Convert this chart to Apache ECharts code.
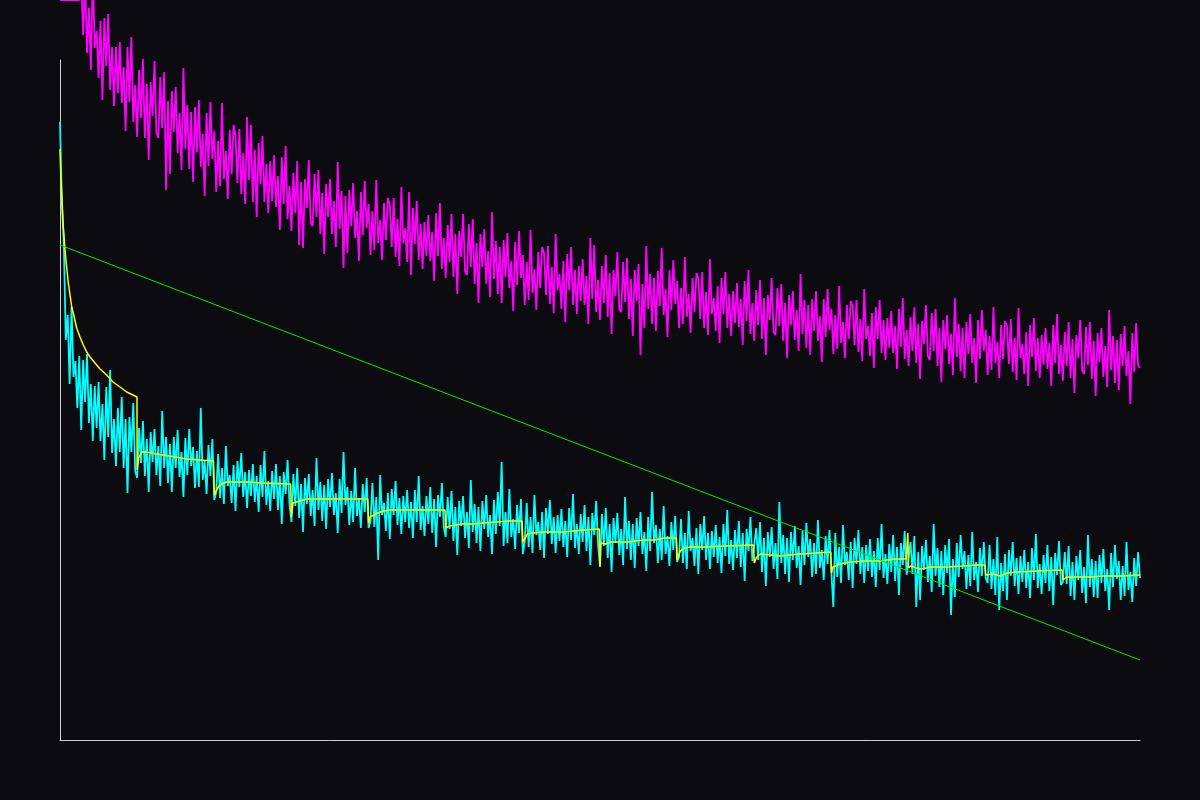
<!DOCTYPE html>
<html>
<head>
<meta charset="utf-8">
<script src="https://cdn.jsdelivr.net/npm/echarts@6.0.0/dist/echarts.min.js"></script>
<style>
html,body{margin:0;padding:0;background:#0b0b10;}
#chart{width:1200px;height:800px;}
</style>
</head>
<body>
<div id="chart"></div>
<script>
// spacing between consecutive samples of the noisy series (x units)
const STEP = 2.5;

const magentaValues = [
7.40,7.40,7.40,7.40,7.40,7.40,7.40,7.40,7.40,7.40,7.40,
7.60,7.05,7.64,6.87,7.32,6.70,7.67,6.92,7.09,6.62,7.19,6.40,7.22,6.74,7.26,6.50,6.93,6.34,6.93,6.47,6.98,6.37,6.73,6.09,6.93,6.38,7.03,6.18,6.55,6.03,6.70,6.22,6.81,6.02,6.56,5.80,6.58,6.24,6.79,6.07,
6.02,6.63,6.12,6.68,5.50,6.39,5.66,6.49,6.08,6.53,5.87,6.27,5.70,6.72,5.91,6.35,5.71,6.28,5.58,6.33,5.88,6.40,5.73,6.06,5.44,6.27,5.74,6.38,5.81,6.09,5.48,5.99,5.54,6.37,5.61,5.89,5.41,6.10,5.66,6.15,
6.04,5.57,6.11,5.46,5.87,5.36,6.23,5.60,6.15,5.38,5.90,5.23,5.97,5.56,6.04,5.38,5.76,5.27,5.79,5.39,5.85,5.33,5.64,5.10,5.83,5.36,5.94,5.21,5.54,5.09,5.67,5.27,5.79,4.95,5.58,4.92,5.61,5.32,5.80,5.17,
5.14,5.66,5.23,5.70,5.06,5.47,4.86,5.56,5.23,5.61,5.06,5.39,4.93,5.78,5.11,5.49,4.72,5.44,4.87,5.50,5.14,5.57,5.02,5.29,4.79,5.48,5.05,5.59,5.12,5.36,4.85,5.29,4.90,5.60,4.97,5.20,4.80,5.37,5.00,5.42,
5.35,4.93,5.42,4.83,5.21,4.74,5.53,4.97,5.12,4.78,5.48,4.65,5.32,4.96,5.39,4.80,5.16,4.71,5.18,4.84,5.25,4.79,5.08,4.59,5.27,4.84,5.37,4.71,5.02,4.62,5.15,4.78,5.26,4.63,5.06,4.46,5.09,4.83,5.26,4.69,
4.65,5.16,4.73,5.21,4.56,4.97,4.37,5.06,4.73,5.11,4.56,4.89,4.43,5.28,4.61,4.99,4.46,4.93,4.37,5.00,4.63,5.07,4.52,4.79,4.29,4.98,4.55,5.09,4.62,4.85,4.35,4.78,4.40,5.10,4.47,4.71,4.30,4.88,4.52,4.93,
4.87,4.45,4.94,4.36,4.73,4.27,5.06,4.50,4.66,4.31,4.79,4.18,4.86,4.50,4.93,4.35,4.70,4.26,4.74,4.39,4.81,4.35,4.64,4.16,5.02,4.41,4.95,4.28,4.60,4.20,4.74,4.37,4.85,4.23,4.67,4.06,4.70,4.44,4.88,4.31,
4.28,4.78,4.38,4.82,4.21,4.61,4.04,4.70,4.39,4.76,3.85,4.56,4.12,4.94,4.31,4.66,4.16,4.62,4.09,4.69,4.34,4.92,4.25,4.51,4.03,4.70,4.30,4.80,4.36,4.59,4.12,4.52,4.16,4.83,4.23,4.46,4.07,4.62,4.28,4.67,
4.61,4.21,4.68,4.12,4.48,4.05,4.81,4.26,4.42,4.09,4.54,3.97,4.62,4.26,4.68,4.12,4.46,4.04,4.49,4.17,4.57,4.13,4.41,3.95,4.59,4.19,4.70,4.06,4.37,3.99,4.50,4.15,4.60,4.01,4.42,3.85,4.45,4.20,4.62,4.08,
4.05,4.52,4.14,4.56,3.99,4.37,3.82,4.45,4.15,4.49,4.00,4.30,3.89,4.66,4.06,4.40,3.92,4.35,3.85,4.41,4.09,4.49,3.99,4.24,3.78,4.41,4.03,4.51,4.10,4.31,3.86,4.25,3.91,4.54,3.97,4.18,3.82,4.35,4.01,4.39,
4.34,3.95,4.40,3.88,4.21,3.79,4.51,4.01,4.14,3.84,4.27,3.72,4.33,4.01,4.40,3.87,4.20,3.80,4.22,3.92,4.29,3.87,4.14,3.71,4.31,3.93,4.42,3.81,4.10,3.74,4.23,3.89,4.33,3.77,4.16,3.61,4.19,3.96,4.35,3.84,
3.80,4.27,3.89,4.31,3.74,4.12,3.58,4.20,3.91,4.25,3.76,4.06,3.65,4.42,3.83,4.16,3.69,4.12,3.62,4.18,3.86,4.26,3.77,4.02,3.57,4.20,3.81,4.30,3.89,4.10,3.65,4.04,3.70,4.33,3.77,3.98,3.62,4.15,3.81,4.19,
4.14,3.76,4.21,3.68,4.02,3.60,4.32,3.82,3.96,3.66,4.08,3.54,4.15,3.83,4.22,3.69,4.02,3.62,4.05,3.75,4.12,3.71,3.97,3.54,4.15,3.77,4.26,3.66,3.95,3.59,4.08,3.74,4.18,3.62,4.01,3.47,4.05,3.82,4.20,3.70,
3.66,4.13,3.75,4.18,3.61,3.99,3.44,4.07,3.78,4.12,3.63,3.94,3.53,4.30,3.70,4.04,3.57,4.00,3.50,4.06,3.74,4.14,3.64,3.89,3.36,4.07,3.68,4.17,3.75,3.72
];

const cyanValues = [
6.18,5.35,4.96,4.00,4.25,3.56,4.33,3.63,3.79,3.32,3.84,3.10,3.80,3.38,3.86,3.17,3.56,2.99,3.54,3.12,3.58,2.99,3.36,2.80,3.53,3.03,3.70,2.87,3.21,2.74,3.32,2.88,3.43,2.72,3.21,2.47,3.23,2.88,3.37,2.69,
2.62,3.12,2.77,3.19,2.64,3.01,2.48,3.08,2.78,3.11,2.65,2.94,2.54,3.29,2.72,3.03,2.57,2.96,2.48,3.03,2.72,3.10,2.63,2.88,2.43,3.02,2.65,3.11,2.74,2.93,2.52,2.89,2.53,3.32,2.60,2.79,2.46,2.95,2.64,3.01,
2.40,2.48,2.86,2.42,2.72,2.36,2.94,2.54,2.65,2.37,2.75,2.29,2.79,2.53,2.87,2.43,2.68,2.32,2.70,2.44,2.76,2.38,2.64,2.28,2.75,2.43,2.89,2.35,2.59,2.29,2.69,2.41,2.76,2.30,2.64,2.16,2.68,2.46,2.80,2.36,
2.18,2.66,2.34,2.72,2.22,2.56,2.08,2.62,2.36,2.66,2.24,2.50,2.14,2.82,2.30,2.58,2.19,2.55,2.11,2.61,2.33,2.67,2.25,2.47,2.07,2.61,2.27,2.88,2.35,2.53,2.15,2.49,2.18,2.72,2.24,2.42,2.12,2.56,2.28,2.62,
2.12,2.19,2.57,2.13,2.43,1.80,2.65,2.25,2.37,2.09,2.47,2.01,2.51,2.25,2.59,2.15,2.42,2.06,2.44,2.18,2.50,2.12,2.38,2.02,2.50,2.18,2.64,2.10,2.34,2.04,2.44,2.16,2.53,2.07,2.41,1.93,2.45,2.23,2.57,2.13,
2.03,2.43,2.11,2.49,1.99,2.33,1.85,2.39,2.14,2.44,2.02,2.28,1.92,2.60,2.08,2.36,1.97,2.33,1.89,2.39,2.11,2.45,2.03,2.25,1.86,2.40,2.06,2.48,2.14,2.78,1.94,2.28,1.97,2.51,2.03,2.21,1.91,2.35,2.07,2.41,
1.86,1.99,2.37,1.93,2.23,1.87,2.45,2.05,2.18,1.90,2.28,1.82,2.32,2.06,2.40,1.96,2.23,1.87,2.25,1.99,2.31,1.93,2.19,1.83,2.32,2.00,2.46,1.92,2.16,1.86,2.26,1.98,2.35,1.89,2.23,1.75,2.27,2.05,2.39,1.95,
1.74,2.26,1.94,2.32,1.82,2.16,1.68,2.22,1.97,2.27,1.85,2.11,1.75,2.43,1.91,2.19,1.80,2.16,1.72,2.22,1.94,2.28,1.86,2.08,1.69,2.23,1.89,2.48,1.97,2.15,1.77,2.11,1.80,2.34,1.86,2.04,1.74,2.18,1.90,2.24,
1.78,1.83,2.21,1.77,2.07,1.71,2.29,1.89,2.02,1.74,2.12,1.66,2.16,1.90,2.24,1.80,2.07,1.71,2.09,1.83,2.15,1.77,2.03,1.67,2.16,1.84,2.30,1.76,2.00,1.70,2.10,1.82,2.19,1.73,2.07,1.59,2.11,1.89,2.23,1.79,
1.77,2.12,1.80,2.18,1.68,2.02,1.54,2.08,1.83,2.13,1.71,1.97,1.61,2.38,1.77,2.05,1.66,2.02,1.58,2.08,1.80,2.14,1.72,1.94,1.55,2.09,1.75,2.17,1.83,2.01,1.63,1.97,1.66,2.20,1.72,1.90,1.60,2.04,1.76,2.10,
1.67,1.33,2.07,1.63,1.93,1.57,2.15,1.75,1.88,1.60,1.98,1.52,2.02,1.76,2.10,1.66,1.93,1.57,1.95,1.69,2.01,1.63,1.89,1.53,2.02,1.70,2.16,1.62,1.86,1.56,1.96,1.68,2.05,1.59,1.93,1.45,1.97,1.75,2.09,1.65,
1.64,1.98,1.66,2.04,1.33,1.88,1.40,1.94,1.70,2.00,1.58,1.84,1.48,2.16,1.64,1.92,1.53,1.89,1.45,1.95,1.67,2.01,1.25,1.81,1.43,1.97,1.63,2.05,1.71,1.89,1.51,1.85,1.54,2.08,1.60,1.78,1.48,1.92,1.64,1.98,
1.62,1.57,1.95,1.51,1.81,1.45,2.03,1.30,1.77,1.49,1.86,1.40,1.90,1.64,1.98,1.54,1.82,1.46,1.84,1.58,1.90,1.52,1.78,1.42,1.92,1.60,2.06,1.52,1.76,1.46,1.85,1.57,1.95,1.49,1.83,1.35,1.87,1.65,1.99,1.55,
1.58,1.88,1.56,1.94,1.44,1.78,1.40,1.84,1.60,1.90,1.47,1.73,1.37,2.05,1.53,1.81,1.43,1.79,1.42,1.85,1.57,1.91,1.49,1.71,1.30,1.87,1.53,1.95,1.61,1.79,1.40,1.74,1.44,1.98,1.50,1.68,1.38,1.82,1.54,1.88,1.62
];

const yellowX = [
0,0.9,2.6,4.3,6.5,8.7,10.8,13,15.2,17.2,21.6,25.9,30.2,34.6,38.9,45.4,51.9,60.5,68.7,77.8,86.5,99.8,
100,102,106,112,125,142,164,199,
200,203,207,216,246,260,299,
300,302,311,320,350,399,
400,402,409,415,426,499,
500,505,512,522,535,548,566,583,599,
600,606,614,627,653,679,699,
700,701,707,714,735,757,770,783,799,
800,804,810,817,833,864,899,
900,903,908,921,934,946,959,981,999,
1000,1002,1011,1024,1045,1063,1082,1097,1099,
1100,1103,1110,1116,1123,1127,1144,1150,1170,1188,1199,
1200,1202,1210,1219,1228,1241,1267,1299,
1300,1305,1318,1335,1352,1378,1400
];
const yellowY = [
5.91,5.67,5.40,5.13,4.90,4.72,4.57,4.45,4.33,4.27,4.12,4.03,3.95,3.88,3.83,3.77,3.71,3.65,3.58,3.53,3.48,3.43,
2.70,2.82,2.88,2.88,2.86,2.84,2.81,2.79,
2.45,2.50,2.55,2.58,2.58,2.57,2.56,
2.23,2.37,2.39,2.41,2.41,2.41,
2.17,2.23,2.26,2.28,2.30,2.30,
2.12,2.14,2.15,2.16,2.16,2.17,2.18,2.19,2.19,
1.98,2.06,2.07,2.08,2.08,2.10,2.11,
1.73,1.97,1.96,1.98,1.98,2.00,2.00,2.02,2.02,
1.80,1.89,1.92,1.93,1.93,1.94,1.95,
1.77,1.83,1.86,1.85,1.84,1.85,1.86,1.87,1.88,
1.67,1.73,1.76,1.78,1.79,1.79,1.81,1.81,2.07,
1.72,1.74,1.72,1.71,1.72,1.73,1.73,1.73,1.74,1.75,1.75,
1.65,1.67,1.66,1.64,1.67,1.68,1.69,1.70,
1.60,1.63,1.63,1.63,1.64,1.64,1.65
];

const greenX = [0, 1400];
const greenY = [4.95, 0.80];

const X_MIN = 0, X_MAX = 1400, Y_MIN = 0, Y_MAX = 6.8;

function pairs(xs, ys){ return ys.map((v,i)=>[xs[i], v]); }
function stepped(vals){ return vals.map((v,i)=>[i*STEP, v]); }

const chart = echarts.init(document.getElementById('chart'), null, {renderer:'canvas'});
const axisCommon = {
  axisLine:{show:true, onZero:false, lineStyle:{color:'#cfcfcf', width:1}},
  axisTick:{show:false}, axisLabel:{show:false}, splitLine:{show:false}
};
chart.setOption({
  backgroundColor:'#0b0b10',
  animation:false,
  grid:{left:60, right:60, top:60, bottom:60},
  xAxis:Object.assign({type:'value', min:X_MIN, max:X_MAX}, axisCommon),
  yAxis:Object.assign({type:'value', min:Y_MIN, max:Y_MAX}, axisCommon),
  series:[
    {type:'line', data:stepped(magentaValues), symbol:'none', clip:false, silent:true,
     lineStyle:{color:'#ff00ff', width:1.8}, z:2},
    {type:'line', data:stepped(cyanValues), symbol:'none', clip:false, silent:true,
     lineStyle:{color:'#00ffff', width:1.8}, z:3},
    {type:'line', data:pairs(yellowX, yellowY), symbol:'none', silent:true,
     lineStyle:{color:'#ffff00', width:1.5}, z:4},
    {type:'line', data:pairs(greenX, greenY), symbol:'none', silent:true,
     lineStyle:{color:'#00ee00', width:1}, z:5}
  ]
});
</script>
</body>
</html>
